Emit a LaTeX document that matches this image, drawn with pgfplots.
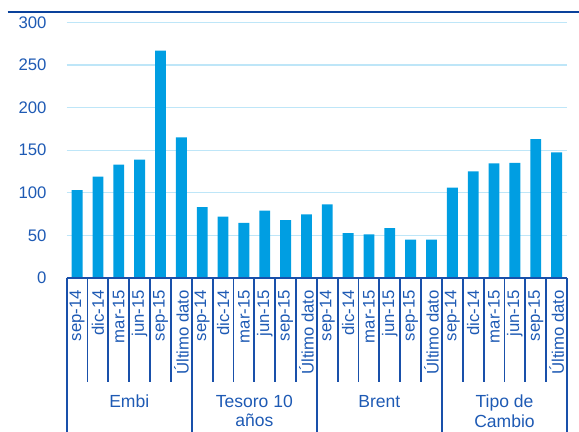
\documentclass[border=0pt]{standalone}
\usepackage{pgfplots}
\pgfplotsset{compat=1.18}
\usepackage{fontspec}
\setmainfont{Liberation Sans}
\definecolor{barblue}{RGB}{0,158,226}
\definecolor{txtblue}{RGB}{30,90,180}
\definecolor{lineblue}{RGB}{25,80,170}
\definecolor{titleblue}{RGB}{10,65,155}
\definecolor{gridblue}{RGB}{190,230,248}
\begin{document}
\begin{tikzpicture}
\useasboundingbox (-66.7bp,-154.1bp) rectangle (512.3bp,277.9bp);
\draw[titleblue, line width=2.2bp] (-59bp,265.9bp) -- (512.3bp,265.9bp);
\begin{axis}[
  at={(0,0)}, anchor=south west,
  scale only axis, width=500.3bp, height=255.4bp,
  xmin=-0.5, xmax=23.5, ymin=0, ymax=300,
  ytick={0,50,...,300},
  xtick={0,...,23},
  xticklabels={sep-14,dic-14,mar-15,jun-15,sep-15,Último dato,sep-14,dic-14,mar-15,jun-15,sep-15,Último dato,sep-14,dic-14,mar-15,jun-15,sep-15,Último dato,sep-14,dic-14,mar-15,jun-15,sep-15,Último dato},
  font=\fontsize{16.8}{19}\selectfont,
  /pgf/number format/assume math mode=true,
  axis line style={draw=none},
  tick style={draw=none},
  ymajorgrids, grid style={gridblue, line width=1.4bp},
  yticklabel style={txtblue, inner sep=0pt},
  yticklabel shift=20bp,
  xticklabel style={txtblue, rotate=90, anchor=east, inner sep=0pt},
  xticklabel shift=12bp,
  clip=false,
]
\addplot[ybar, bar width=0.52, fill=barblue, draw=none] coordinates {
 (0,103) (1,119) (2,133) (3,139) (4,267) (5,165)
 (6,83) (7,72) (8,64.5) (9,79) (10,68) (11,74.5)
 (12,86.5) (13,52.5) (14,51) (15,58.5) (16,45) (17,45)
 (18,106) (19,125) (20,134.5) (21,135) (22,163) (23,147.5)
};
\draw[lineblue, line width=2bp] (axis cs:-0.5,0) -- (axis cs:23.5,0);
\pgfplotsinvokeforeach{0.5,1.5,2.5,3.5,4.5,6.5,7.5,8.5,9.5,10.5,12.5,13.5,14.5,15.5,16.5,18.5,19.5,20.5,21.5,22.5}{
  \draw[lineblue, line width=1.8bp] (axis cs:#1,0) -- ++(0bp,-103.8bp);
}
\pgfplotsinvokeforeach{-0.5,5.5,11.5,17.5,23.5}{
  \draw[lineblue, line width=1.8bp] (axis cs:#1,0) -- ++(0bp,-160bp);
}
\node[txtblue, anchor=north, align=center, inner sep=0pt, font=\fontsize{17.6}{19.5}\selectfont] at ([yshift=-117bp]axis cs:2.5,0) {Embi};
\node[txtblue, anchor=north, align=center, inner sep=0pt, font=\fontsize{17.6}{19.5}\selectfont] at ([yshift=-117bp]axis cs:8.5,0) {Tesoro 10\\años};
\node[txtblue, anchor=north, align=center, inner sep=0pt, font=\fontsize{17.6}{19.5}\selectfont] at ([yshift=-117bp]axis cs:14.5,0) {Brent};
\node[txtblue, anchor=north, align=center, inner sep=0pt, font=\fontsize{17.6}{19.5}\selectfont] at ([yshift=-117bp]axis cs:20.5,0) {Tipo de\\Cambio};
\end{axis}
\end{tikzpicture}
\end{document}
